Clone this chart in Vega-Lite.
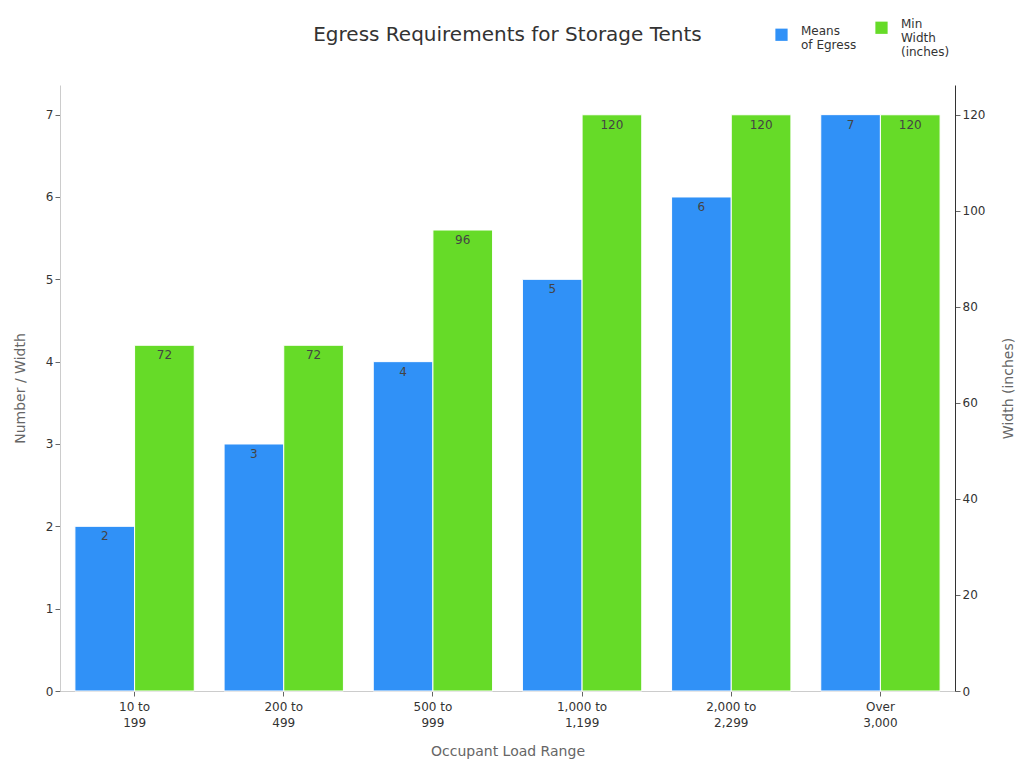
{
  "$schema": "https://vega.github.io/schema/vega-lite/v6.json",
  "width": 895,
  "height": 606,
  "autosize": {"type": "none"},
  "padding": {"left": 60, "top": 85, "right": 69, "bottom": 77},
  "background": "white",
  "title": {"text": "Egress Requirements for Storage Tents", "fontSize": 20, "fontWeight": "normal", "color": "#333333", "font": "DejaVu Sans", "anchor": "middle", "offset": -24},
  "config": {
    "view": {"stroke": null},
    "font": "DejaVu Sans",
    "axis": {"labelFont": "DejaVu Sans", "titleFont": "DejaVu Sans", "labelFontSize": 12, "labelColor": "#333333", "titleFontSize": 14, "titleColor": "#666666", "titleFontWeight": "normal", "grid": false, "tickColor": "#666666", "tickSize": 5}
  },
  "data": {"values": [
    {"range": "10 to 199", "series": "Means of Egress", "value": 2},
    {"range": "10 to 199", "series": "Min Width (inches)", "value": 72},
    {"range": "200 to 499", "series": "Means of Egress", "value": 3},
    {"range": "200 to 499", "series": "Min Width (inches)", "value": 72},
    {"range": "500 to 999", "series": "Means of Egress", "value": 4},
    {"range": "500 to 999", "series": "Min Width (inches)", "value": 96},
    {"range": "1,000 to 1,199", "series": "Means of Egress", "value": 5},
    {"range": "1,000 to 1,199", "series": "Min Width (inches)", "value": 120},
    {"range": "2,000 to 2,299", "series": "Means of Egress", "value": 6},
    {"range": "2,000 to 2,299", "series": "Min Width (inches)", "value": 120},
    {"range": "Over 3,000", "series": "Means of Egress", "value": 7},
    {"range": "Over 3,000", "series": "Min Width (inches)", "value": 120}
  ]},
  "encoding": {
    "x": {"field": "range", "type": "nominal", "sort": null,
      "scale": {"paddingInner": 0.2, "paddingOuter": 0.1},
      "axis": {"title": "Occupant Load Range", "labelAngle": 0, "domainColor": "#cccccc", "labelPadding": 5, "labelLineHeight": 16, "titlePadding": 16,
        "labelExpr": "indexof(datum.label,' to ')>0 ? [substring(datum.label,0,indexof(datum.label,' to ')+3), substring(datum.label,indexof(datum.label,' to ')+4)] : split(datum.label,' ')"}},
    "xOffset": {"field": "series", "type": "nominal", "scale": {"domain": ["Means of Egress", "Min Width (inches)"], "paddingInner": 0, "paddingOuter": 0}}
  },
  "layer": [
    {
      "transform": [{"filter": "datum.series == 'Means of Egress'"}],
      "encoding": {
        "y": {"field": "value", "type": "quantitative", "scale": {"domain": [0, 7.36], "nice": false, "zero": true},
          "axis": {"title": "Number / Width", "orient": "left", "values": [0,1,2,3,4,5,6,7], "domainColor": "#cccccc", "titlePadding": 18}}
      },
      "layer": [
        {"mark": {"type": "bar", "stroke": "white", "strokeWidth": 1},
         "encoding": {
           "color": {"field": "series", "type": "nominal",
             "scale": {"domain": ["Means of Egress", "Min Width (inches)"], "range": ["#3091F7", "#66DB28"]},
             "legend": {"title": null, "orient": "none", "direction": "horizontal", "legendX": 715, "legendY": -64,
               "symbolType": "square", "symbolSize": 150, "symbolStrokeWidth": 0, "labelFontSize": 12, "labelColor": "#333333", "columnPadding": 18,
               "labelOffset": 13, "labelBaseline": "alphabetic", "labelLineHeight": 15,
               "labelExpr": "datum.label == 'Means of Egress' ? ['Means','of Egress'] : ['Min','Width','(inches)']"}}
         }},
        {"mark": {"type": "text", "baseline": "top", "dy": 5, "fontSize": 12, "color": "#444444"},
         "encoding": {
           "text": {"field": "value", "type": "quantitative"}
         }}
      ]
    },
    {
      "transform": [{"filter": "datum.series == 'Min Width (inches)'"}],
      "encoding": {
        "y": {"field": "value", "type": "quantitative", "scale": {"domain": [0, 126.2], "nice": false, "zero": true},
          "axis": {"title": "Width (inches)", "orient": "right", "titleAngle": 270, "values": [0,20,40,60,80,100,120], "domainColor": "#333333", "titlePadding": 31}}
      },
      "layer": [
        {"mark": {"type": "bar", "stroke": "white", "strokeWidth": 1},
         "encoding": {
           "color": {"field": "series", "type": "nominal"}
         }},
        {"mark": {"type": "text", "baseline": "top", "dy": 5, "fontSize": 12, "color": "#444444"},
         "encoding": {
           "text": {"field": "value", "type": "quantitative"}
         }}
      ]
    }
  ],
  "resolve": {"scale": {"y": "independent"}}
}
